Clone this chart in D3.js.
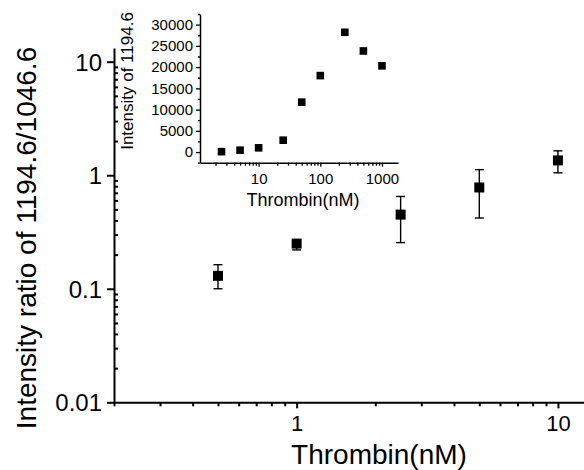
<!DOCTYPE html>
<html>
<head>
<meta charset="utf-8">
<script src="https://cdn.jsdelivr.net/npm/d3@7"></script>
<style>
  body { margin: 0; background: #fff; }
  svg { display: block; font-family: "Liberation Sans", Arial, sans-serif; }
  .axis path, .axis line { stroke: #000; }
  .axis text { fill: #000; }
</style>
</head>
<body>
<svg id="chart" width="584" height="470"></svg>
<script>
// main plot data
const mainX = [0.5, 1, 2.5, 5, 10];
const mainY = [0.13, 0.25, 0.45, 0.78, 1.35];
const mainLow = [0.10, 0.22, 0.255, 0.42, 1.05];
const mainHigh = [0.163, 0.27, 0.65, 1.12, 1.64];

// inset data
const insetX = [2.5, 5, 10, 25, 50, 100, 250, 500, 1000];
const insetY = [100, 450, 1000, 2800, 11750, 18000, 28200, 23800, 20300];

const mainYTicks = [0.01, 0.1, 1, 10];
const mainXTicks = [1, 10];
const insetYTicks = [0, 5000, 10000, 15000, 20000, 25000, 30000];
const insetXTicks = [10, 100, 1000];

const svg = d3.select("#chart");

// minor ticks for log axes
const minors = (lo, hi) => {
    const out = [];
    for (let d = Math.floor(Math.log10(lo)); d <= Math.ceil(Math.log10(hi)); d++) {
        for (let k = 2; k <= 9; k++) {
            const v = k * Math.pow(10, d);
            if (v >= lo && v <= hi) out.push(v);
        }
    }
    return out;
};

// ---- main chart ----
const x = d3.scaleLog().domain([0.2, 12.58]).range([114, 584]);
const y = d3.scaleLog().domain([0.01, 13.2]).range([402.3, 48]);

const gx = svg.append("g").attr("class", "axis")
    .attr("transform", "translate(0,402.3)");
gx.call(d3.axisBottom(x).tickValues(minors(0.2, 12.58)).tickSize(4).tickSizeOuter(0).tickFormat(""));
gx.append("g").call(d3.axisBottom(x).tickValues(mainXTicks).tickSize(6).tickSizeOuter(0).tickFormat(d3.format("d")))
    .call(g => g.select(".domain").remove())
    .selectAll("text").attr("font-size", 22).attr("dy", "0.78em").attr("y", 12);
gx.selectAll("line").attr("stroke-width", 2);
gx.select(".domain").attr("stroke-width", 2);

const gy = svg.append("g").attr("class", "axis")
    .attr("transform", "translate(114,0)");
gy.call(d3.axisRight(y).tickValues(minors(0.01, 13.2)).tickSize(4).tickSizeOuter(0).tickFormat(""));
gy.append("g").call(d3.axisLeft(y).tickValues(mainYTicks).tickSize(7).tickSizeOuter(0).tickFormat(d => d >= 1 ? d3.format("d")(d) : d3.format(".2~f")(d)))
    .call(g => g.select(".domain").remove())
    .selectAll("text").attr("font-size", 24).attr("x", -12).attr("dy", "0.36em");
gy.selectAll("line").attr("stroke-width", 2);
gy.select(".domain").attr("stroke-width", 2);

// error bars
const main = mainX.map((v, i) => ({ x: v, y: mainY[i], lo: mainLow[i], hi: mainHigh[i] }));
const eb = svg.append("g").attr("stroke", "#000").attr("stroke-width", 1.4);
eb.selectAll(".v").data(main).join("line")
    .attr("x1", d => x(d.x)).attr("x2", d => x(d.x))
    .attr("y1", d => y(d.lo)).attr("y2", d => y(d.hi));
eb.selectAll(".ct").data(main).join("line")
    .attr("x1", d => x(d.x) - 4.5).attr("x2", d => x(d.x) + 4.5)
    .attr("y1", d => y(d.hi)).attr("y2", d => y(d.hi));
eb.selectAll(".cb").data(main).join("line")
    .attr("x1", d => x(d.x) - 4.5).attr("x2", d => x(d.x) + 4.5)
    .attr("y1", d => y(d.lo)).attr("y2", d => y(d.lo));

svg.append("g").selectAll("rect").data(main).join("rect")
    .attr("x", d => x(d.x) - 5).attr("y", d => y(d.y) - 5)
    .attr("width", 10).attr("height", 10).attr("fill", "#000");

svg.append("text")
    .attr("transform", "translate(36,238) rotate(-90)")
    .attr("text-anchor", "middle").attr("font-size", 28)
    .text("Intensity ratio of 1194.6/1046.6");

svg.append("text")
    .attr("x", 379).attr("y", 464)
    .attr("text-anchor", "middle").attr("font-size", 28)
    .text("Thrombin(nM)");

// ---- inset ----
const ix = d3.scaleLog().domain([1.12, 1820]).range([200, 398]);
const iy = d3.scaleLinear().domain([-2500, 32500]).range([162.7, 14]);

const ixg = svg.append("g").attr("class", "axis")
    .attr("transform", "translate(0,162.7)");
ixg.call(d3.axisBottom(ix).tickValues(minors(1.12, 1820)).tickSize(3).tickSizeOuter(0).tickFormat(""));
ixg.append("g").call(d3.axisBottom(ix).tickValues(insetXTicks).tickSize(4).tickSizeOuter(0).tickFormat(d3.format("d")))
    .call(g => g.select(".domain").remove())
    .selectAll("text").attr("font-size", 15).attr("y", 11);
ixg.selectAll("line").attr("stroke-width", 1.3);
ixg.select(".domain").attr("stroke-width", 1.5);

const iyg = svg.append("g").attr("class", "axis")
    .attr("transform", "translate(200,0)");
iyg.call(d3.axisLeft(iy).tickValues(d3.range(-2500, 32501, 5000)).tickSize(2).tickSizeOuter(0).tickFormat(""));
iyg.append("g").call(d3.axisLeft(iy).tickValues(insetYTicks).tickSize(4).tickSizeOuter(0).tickFormat(d3.format("d")))
    .call(g => g.select(".domain").remove())
    .selectAll("text").attr("font-size", 15).attr("x", -7);
iyg.selectAll("line").attr("stroke-width", 1.3);
iyg.select(".domain").attr("stroke-width", 1.5);

svg.append("g").selectAll("rect").data(insetX).join("rect")
    .attr("x", (d, i) => ix(d) - 3.8).attr("y", (d, i) => iy(insetY[i]) - 3.8)
    .attr("width", 7.6).attr("height", 7.6).attr("fill", "#000");

svg.append("text")
    .attr("transform", "translate(133,81) rotate(-90)")
    .attr("text-anchor", "middle").attr("font-size", 17)
    .text("Intensity of 1194.6");

svg.append("text")
    .attr("x", 303).attr("y", 206)
    .attr("text-anchor", "middle").attr("font-size", 18)
    .text("Thrombin(nM)");
</script>
</body>
</html>
